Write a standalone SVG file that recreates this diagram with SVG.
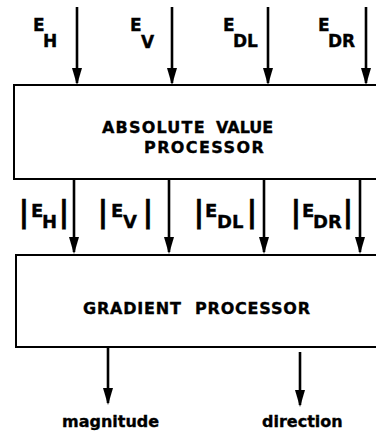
<svg xmlns="http://www.w3.org/2000/svg" width="376" height="435" viewBox="0 0 376 435">
<style>
text{font-family:"DejaVu Sans","Liberation Sans",Arial,sans-serif;font-weight:bold;fill:#000;stroke:#000;stroke-width:0.35px}
.box{fill:#fff;stroke:#000;stroke-width:2}
.conn line{stroke:#000;stroke-width:2.6;marker-end:url(#ah)}
.t17{font-size:17px}
.t18{font-size:18px}
.bar{font-size:31px;text-anchor:middle}
.btxt{font-size:16px}
.out{font-size:16px}
</style>
<defs>
<marker id="ah" markerUnits="userSpaceOnUse" viewBox="0 0 17 10" refX="15" refY="5" markerWidth="17" markerHeight="10" orient="auto">
<path d="M0,0 L17,5 L0,10 Z" fill="#000"/>
</marker>
</defs>
<rect width="376" height="435" fill="#fff"/>
<g id="abs-processor">
<rect class="box" x="14" y="85" width="400" height="94"/>
<text class="btxt" y="133"><tspan x="102" style="letter-spacing:1.2px">ABSOLUTE</tspan><tspan x="216">VALUE</tspan></text>
<text class="btxt" x="144" y="153" style="letter-spacing:1.4px">PROCESSOR</text>
</g>
<g id="gradient-processor">
<rect class="box" x="16" y="255" width="400" height="92"/>
<text class="btxt" y="314" style="letter-spacing:0.8px"><tspan x="83">GRADIENT</tspan><tspan x="195">PROCESSOR</tspan></text>
</g>
<g id="inputs" class="t17">
<text id="in-eh"><tspan x="33" y="31">E</tspan><tspan x="43" y="47">H</tspan></text>
<text id="in-ev"><tspan x="130" y="31">E</tspan><tspan x="141" y="48">V</tspan></text>
<text id="in-edl"><tspan x="223" y="31">E</tspan><tspan x="233" y="47">DL</tspan></text>
<text id="in-edr"><tspan x="318" y="31">E</tspan><tspan x="328" y="47">DR</tspan></text>
</g>
<g id="abs-values" class="t18">
<text id="abs-eh"><tspan class="bar" x="24" y="222">|</tspan><tspan x="31" y="217">E</tspan><tspan x="42" y="228">H</tspan><tspan class="bar" x="64" y="222">|</tspan></text>
<text id="abs-ev"><tspan class="bar" x="103" y="222">|</tspan><tspan x="111" y="217">E</tspan><tspan x="123" y="228">V</tspan><tspan class="bar" x="148" y="222">|</tspan></text>
<text id="abs-edl"><tspan class="bar" x="199" y="222">|</tspan><tspan x="205" y="217">E</tspan><tspan x="217" y="228">DL</tspan><tspan class="bar" x="252" y="222">|</tspan></text>
<text id="abs-edr"><tspan class="bar" x="296" y="222">|</tspan><tspan x="302" y="217">E</tspan><tspan x="313" y="228">DR</tspan><tspan class="bar" x="348" y="222">|</tspan></text>
</g>
<g id="outputs">
<text id="out-magnitude" class="out" x="62" y="427">magnitude</text>
<text id="out-direction" class="out" x="262" y="427">direction</text>
</g>
<g id="connectors" class="conn">
<line x1="77" y1="7" x2="77" y2="83"/>
<line x1="172" y1="7" x2="172" y2="83"/>
<line x1="268" y1="7" x2="268" y2="83"/>
<line x1="366" y1="7" x2="366" y2="83"/>
<line x1="74" y1="179" x2="74" y2="252"/>
<line x1="169" y1="179" x2="169" y2="252"/>
<line x1="264" y1="179" x2="264" y2="252"/>
<line x1="360" y1="179" x2="360" y2="252"/>
<line x1="108" y1="348" x2="108" y2="403"/>
<line x1="300" y1="352" x2="300" y2="405"/>
</g>
</svg>
